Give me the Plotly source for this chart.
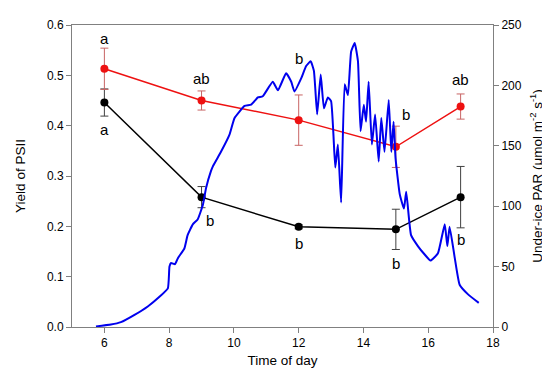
import plotly.graph_objects as go

# PSII yield data (time of day, mean, upper/lower error)
time_pts = [6, 9, 12, 15, 17]
red_mean = [0.513, 0.450, 0.411, 0.358, 0.438]
red_err = [0.041, 0.019, 0.050, 0.041, 0.025]
black_mean = [0.446, 0.258, 0.199, 0.194, 0.258]
black_err = [0.027, 0.021, 0.004, 0.040, 0.061]
red_labels = ["a", "ab", "b", "b", "ab"]
black_labels = ["a", "b", "b", "b", "b"]

# Under-ice PAR trace
par_time = [5.74, 6.2, 6.51, 6.93, 7.34, 7.70, 7.96, 8.01, 8.06, 8.18, 8.27, 8.47, 8.57, 8.73, 8.88,
            9.04, 9.14, 9.29, 9.35, 9.60, 9.86, 10.02, 10.33, 10.53, 10.74, 10.89, 11.20, 11.36,
            11.61, 11.77, 11.87, 12.08, 12.23, 12.37, 12.47, 12.57, 12.68, 12.78, 12.90, 13.00,
            13.13, 13.21, 13.31, 13.42, 13.52, 13.62, 13.73, 13.83, 13.91, 14.01, 14.08, 14.16,
            14.26, 14.36, 14.47, 14.55, 14.65, 14.78, 14.86, 14.93, 14.99, 15.12, 15.25, 15.32,
            15.47, 15.68, 15.89, 16.07, 16.30, 16.51, 16.59, 16.66, 16.82, 16.97, 17.23, 17.56]
par_vals = [0.5, 2, 4, 10, 17, 25, 32, 50, 53, 52, 57, 65, 76, 85, 89,
            101, 115, 129, 133, 145, 159, 173, 183, 184, 190, 191, 203, 196,
            210, 203, 195, 206, 216, 220, 212, 176, 209, 181, 190, 187,
            132, 151, 103, 201, 192, 228, 235, 220, 162, 184, 170, 203,
            151, 176, 137, 173, 145, 188, 145, 170, 140, 110, 98, 112,
            76, 67, 60, 55, 61, 85, 67, 83, 57, 35, 27, 20]

# label pixel offsets (style)
red_shift = [(0, 10), (0, 12), (0, 36), (10, 12), (0, 14)]
black_shift = [(0, -13), (8, -13), (0, -15), (0, -14), (0, -12)]

fig = go.Figure()

fig.add_trace(go.Scatter(
    x=time_pts, y=black_mean, mode="lines+markers",
    line=dict(color="black", width=1.5),
    marker=dict(color="black", size=8),
    error_y=dict(type="data", array=black_err, color="#404040", thickness=1, width=4),
    showlegend=False, yaxis="y"))

fig.add_trace(go.Scatter(
    x=time_pts, y=red_mean, mode="lines+markers",
    line=dict(color="#ee1111", width=1.5),
    marker=dict(color="#ee1111", size=8),
    error_y=dict(type="data", array=red_err, color="#c86464", thickness=1, width=4),
    showlegend=False, yaxis="y"))

fig.add_trace(go.Scatter(
    x=par_time, y=par_vals, mode="lines",
    line=dict(color="#0000ee", width=2, shape="spline", smoothing=0.4),
    showlegend=False, yaxis="y2"))

for t, m, e, lab, (dx, dy) in zip(time_pts, red_mean, red_err, red_labels, red_shift):
    fig.add_annotation(x=t, y=m + e, text=lab, showarrow=False, xshift=dx, yshift=dy,
                       font=dict(size=15, color="black", family="Liberation Sans, Arial"),
                       xref="x", yref="y")
for t, m, e, lab, (dx, dy) in zip(time_pts, black_mean, black_err, black_labels, black_shift):
    fig.add_annotation(x=t, y=m - e, text=lab, showarrow=False, xshift=dx, yshift=dy,
                       font=dict(size=15, color="black", family="Liberation Sans, Arial"),
                       xref="x", yref="y")

axis_common = dict(showline=True, linecolor="#808080", linewidth=1, ticks="outside",
                   ticklen=5, tickcolor="#808080", showgrid=False, zeroline=False,
                   automargin=False, tickfont=dict(size=12, color="black"))

fig.update_layout(
    width=550, height=375,
    margin=dict(l=64, r=65, t=17, b=56),
    paper_bgcolor="white", plot_bgcolor="white",
    font=dict(family="Liberation Sans, Arial, sans-serif", color="black"),
    xaxis=dict(range=[5, 18], tickvals=[6, 8, 10, 12, 14, 16, 18], mirror=True,
               title=dict(text="Time of day", font=dict(size=13.5), standoff=6), **axis_common),
    yaxis=dict(range=[0, 0.6], tickvals=[0, 0.1, 0.2, 0.3, 0.4, 0.5, 0.6], tickformat=".1f",
               title=dict(text="Yield of PSII", font=dict(size=13.5), standoff=18), **axis_common),
    yaxis2=dict(range=[0, 250], tickvals=[0, 50, 100, 150, 200, 250], overlaying="y", side="right",
                title=dict(text="Under-ice PAR (\u03bcmol m<sup>-2</sup> s<sup>-1</sup>)",
                           font=dict(size=13.5), standoff=11), **axis_common),
)

fig.write_html("out.html")
